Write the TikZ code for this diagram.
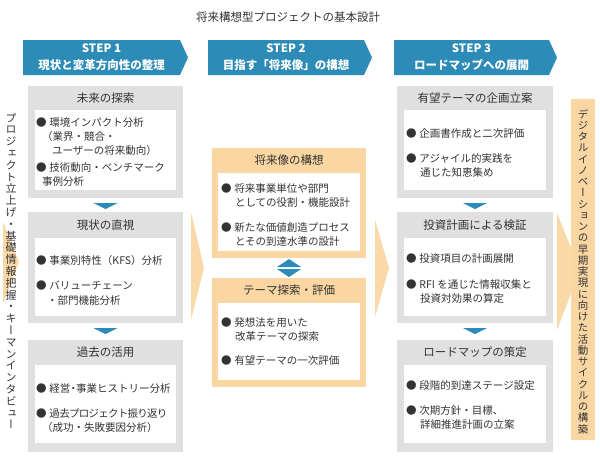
\documentclass[tikz,border=0pt]{standalone}
\usepackage{fontspec}
\setmainfont{Noto Sans CJK JP}
\newfontfamily\vfont[RawFeature=+vert]{Noto Sans CJK JP}
\usetikzlibrary{calc}
\definecolor{stepblue}{HTML}{2C8BB7}
\definecolor{boxgray}{HTML}{E0E0E0}
\definecolor{boxorange}{HTML}{F9D6A2}
\definecolor{chevorange}{HTML}{FAD9A8}
\definecolor{txt}{HTML}{333333}
\lineskiplimit=-100pt\relax
\makeatletter
\def\vstack#1{\vst@first#1\relax}
\def\vst@first#1{#1\vst@next}
\def\vst@next#1{\ifx#1\relax\expandafter\@gobble\else\expandafter\@firstofone\fi{\\#1\vst@next}}
\makeatother
\begin{document}
\begin{tikzpicture}[x=1pt,y=-1pt,
  every node/.style={inner sep=0pt, outer sep=0pt, text=txt},
  title/.style={font=\fontsize{11.5}{14}\selectfont},
  bannertext/.style={text=white, align=center, font=\bfseries\fontsize{11.5}{17}\selectfont},
  graybox/.style={fill=boxgray, anchor=north west},
  orangebox/.style={fill=boxorange, anchor=north west},
  innerbox/.style={fill=white, anchor=north west},
  head/.style={font=\fontsize{11.5}{14}\selectfont},
  tl/.style={anchor=base west, font=\fontsize{10.5}{14}\selectfont},
  vtextL/.style={align=center, font=\vfont\fontsize{11}{11.8}\selectfont},
  vtextR/.style={align=center, font=\vfont\fontsize{10.5}{11.25}\selectfont},
  chev/.style={fill=chevorange},
  tri/.style={fill=stepblue}]
\fill[white] (0,0) rectangle (600,466);
\useasboundingbox (0,0) rectangle (600,466);

% title
\node[title] (t) at (288,17) {将来構想型プロジェクトの基本設計};

% banners
\fill[stepblue] (23,40) -- (180,40) -- (188,57.5) -- (180,75) -- (23,75) -- cycle;
\fill[stepblue] (208,40) -- (364,40) -- (372,57.5) -- (364,75) -- (208,75) -- cycle;
\fill[stepblue] (394,40) -- (549,40) -- (557,57.5) -- (549,75) -- (394,75) -- cycle;
\node[bannertext] (s1) at (101.5,57.5) {STEP 1\\現状と変革方向性の整理};
\node[bannertext] (s2) at (286,57.5) {STEP 2\\目指す「将来像」の構想};
\node[bannertext] (s3) at (471.5,57.5) {STEP 3\\ロードマップへの展開};

% chevrons
\fill[chev] (3,222) -- (19,262) -- (3,304) -- cycle;
\fill[chev] (191,212) -- (204,268) -- (191,320) -- cycle;
\fill[chev] (375,220) -- (389,268) -- (375,317) -- cycle;
\fill[chev] (557,213) -- (580,270) -- (557,330) -- cycle;

% left column
\node[graybox, minimum width=155, minimum height=112] (A) at (28,86) {};
\node[innerbox, minimum width=141, minimum height=80] (Ai) at (35,110) {};
\node[head] (Ah) at (105.5,98) {未来の探索};
\node[graybox, minimum width=155, minimum height=111] (B) at (28,212) {};
\node[innerbox, minimum width=141, minimum height=78] (Bi) at (35,238) {};
\node[head] (Bh) at (105.5,225) {現状の直視};
\node[graybox, minimum width=155, minimum height=112] (C) at (28,340) {};
\node[innerbox, minimum width=141, minimum height=78] (Ci) at (35,365) {};
\node[head] (Ch) at (105.5,352.5) {過去の活用};

% middle column
\node[orangebox, minimum width=154, minimum height=110] (D) at (212,148) {};
\node[innerbox, minimum width=142, minimum height=78] (Di) at (218,173) {};
\node[head] (Dh) at (289,160.5) {将来像の構想};
\node[orangebox, minimum width=154, minimum height=109] (E) at (212,278) {};
\node[innerbox, minimum width=142, minimum height=77] (Ei) at (218,303) {};
\node[head] (Eh) at (289,290.5) {テーマ探索・評価};

% right column
\node[graybox, minimum width=156, minimum height=112] (F) at (397,86) {};
\node[innerbox, minimum width=142, minimum height=80] (Fi) at (404,110) {};
\node[head] (Fh) at (475,98) {有望テーマの企画立案};
\node[graybox, minimum width=156, minimum height=111] (G) at (397,212) {};
\node[innerbox, minimum width=142, minimum height=78] (Gi) at (404,238) {};
\node[head] (Gh) at (475,225) {投資計画による検証};
\node[graybox, minimum width=156, minimum height=112] (H) at (397,340) {};
\node[innerbox, minimum width=142, minimum height=78] (Hi) at (404,365) {};
\node[head] (Hh) at (475,352.5) {ロードマップの策定};

% triangles between boxes
\fill[tri] ($(A.south)+(-12,5)$) -- ($(A.south)+(12,5)$) -- ($(A.south)+(0,11)$) -- cycle;
\fill[tri] ($(B.south)+(-12,5)$) -- ($(B.south)+(12,5)$) -- ($(B.south)+(0,11)$) -- cycle;
\fill[tri] ($(F.south)+(-12,5)$) -- ($(F.south)+(12,5)$) -- ($(F.south)+(0,11)$) -- cycle;
\fill[tri] ($(G.south)+(-12,5)$) -- ($(G.south)+(12,5)$) -- ($(G.south)+(0,11)$) -- cycle;
\fill[tri] ($(D.south)+(-12,9)$) -- ($(D.south)+(12,9)$) -- ($(D.south)+(0,1)$) -- cycle;
\fill[tri] ($(E.north)+(-12,-9)$) -- ($(E.north)+(12,-9)$) -- ($(E.north)+(0,-1)$) -- cycle;

% left column texts
\node[tl] (a1) at (36,126) {●\hspace{3pt}環境インパクト分析};
\node[tl] (a2) at (42,140) {（業界・競合・};
\node[tl] (a3) at (52,154) {ユーザーの将来動向）};
\node[tl] (a4) at (36,171) {●\hspace{3pt}技術動向・ベンチマーク};
\node[tl] (a5) at (42,185) {事例分析};
\node[tl] (b1) at (36,264) {●\hspace{3pt}事業別特性（KFS）分析};
\node[tl] (b2) at (36,289) {●\hspace{3pt}バリューチェーン};
\node[tl] (b3) at (47,304) {・部門機能分析};
\node[tl] (c1) at (36,392) {●\hspace{3pt}経営\kern-2.5pt・\kern-2.5pt事業ヒストリー分析};
\node[tl] (c2) at (36,417) {●\hspace{3pt}{\addfontfeature{LetterSpace=-7}過去プロジェクト振り返り}};
\node[tl] (c3) at (42,431) {（成功・失敗要因分析）};

% middle column texts
\node[tl] (d1) at (221,192) {●\hspace{3pt}将来事業単位や部門};
\node[tl] (d2) at (235,206) {としての役割・機能設計};
\node[tl] (d3) at (221,231) {●\hspace{3pt}新たな価値創造プロセス};
\node[tl] (d4) at (235,245) {とその到達水準の設計};
\node[tl] (e1) at (221,326) {●\hspace{3pt}発想法を用いた};
\node[tl] (e2) at (235,340) {改革テーマの探索};
\node[tl] (e3) at (221,364) {●\hspace{3pt}有望テーマの一次評価};

% right column texts
\node[tl] (f1) at (406,137) {●\hspace{3pt}企画書作成と二次評価};
\node[tl] (f2) at (406,162) {●\hspace{3pt}アジャイル的実践を};
\node[tl] (f3) at (420,176) {通じた知恵集め};
\node[tl] (g1) at (406,262) {●\hspace{3pt}投資項目の計画展開};
\node[tl] (g2) at (406,288) {●\hspace{3pt}RFI を通じた情報収集と};
\node[tl] (g3) at (420,302) {投資対効果の算定};
\node[tl] (h1) at (406,389) {●\hspace{3pt}段階的到達ステージ設定};
\node[tl] (h2) at (406,414) {●\hspace{3pt}次期方針・目標、};
\node[tl] (h3) at (420,428) {詳細推進計画の立案};

% vertical side texts
\node[vtextL] (L) at (11,271) {\vstack{プロジェクト立上げ・基礎情報把握・キーマンインタビュー}};
\node[orangebox, minimum width=24, minimum height=341] (R) at (571,99) {};
\node[vtextR] (Rt) at ($(R.center)+(0,2)$) {\vstack{デジタルイノベーションの早期実現に向けた活動サイクルの構築}};
\end{tikzpicture}
\end{document}
